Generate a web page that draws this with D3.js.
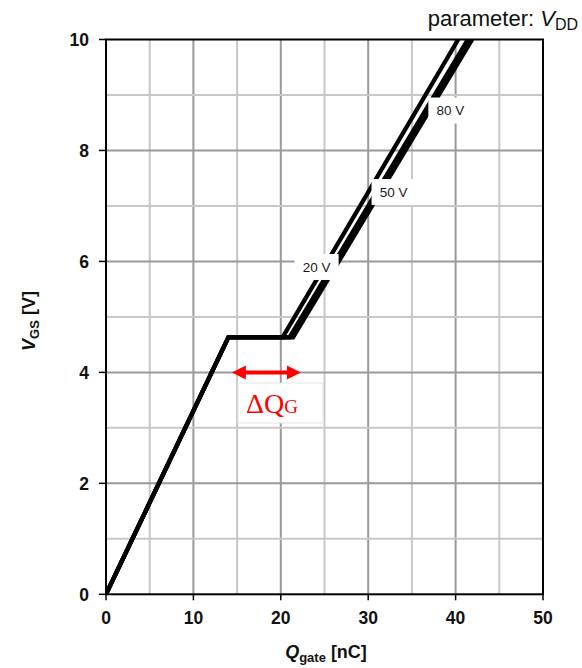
<!DOCTYPE html>
<html>
<head>
<meta charset="utf-8">
<script src="https://cdn.jsdelivr.net/npm/d3@7"></script>
<style>
  body { margin: 0; background: #fff; }
  text { font-family: "Liberation Sans", Arial, sans-serif; }
</style>
</head>
<body>
<svg width="582" height="668"></svg>
<script>
// gate charge curves, V_GS vs Q_gate for three V_DD values
const seriesNames = ["20 V", "50 V", "80 V"];
const vgsPoints = [0, 4.63, 4.63, 10];
const qgate20V = [0, 14.0, 20.2, 40.3];
const qgate50V = [0, 14.0, 21.0, 41.4];
const qgate80V = [0, 14.0, 21.4, 41.9];
const xTicks = [0, 10, 20, 30, 40, 50];
const yTicks = [0, 2, 4, 6, 8, 10];
// where the series labels sit (Q, V)
const labelQ = [24.1, 32.9, 39.4];
const labelV = [5.9, 7.25, 8.72];

const svg = d3.select("svg");
const pL = 106, pR = 543, pT = 39.5, pB = 594.3;

const x = d3.scaleLinear().domain([0, 50]).range([pL, pR]);
const y = d3.scaleLinear().domain([0, 10]).range([pB, pT]);

// grid
const g = svg.append("g");
g.selectAll(".vg").data(d3.range(5, 50, 5)).enter().append("line")
  .attr("x1", d => x(d)).attr("x2", d => x(d))
  .attr("y1", pT).attr("y2", pB)
  .attr("stroke", d => d % 10 === 0 ? "#9a9a9a" : "#c8c8c8")
  .attr("stroke-width", 2);
g.selectAll(".hg").data(d3.range(1, 10)).enter().append("line")
  .attr("y1", d => y(d)).attr("y2", d => y(d))
  .attr("x1", pL).attr("x2", pR)
  .attr("stroke", d => d % 2 === 0 ? "#9a9a9a" : "#c8c8c8")
  .attr("stroke-width", 2);

// curves
svg.append("clipPath").attr("id", "plot")
  .append("rect").attr("x", pL).attr("y", pT)
  .attr("width", pR - pL).attr("height", pB - pT);

const curves = [qgate20V, qgate50V, qgate80V].map(q => q.map((d, i) => [d, vgsPoints[i]]));
const line = d3.line().x(d => x(d[0])).y(d => y(d[1]));

svg.append("g").attr("clip-path", "url(#plot)")
  .selectAll("path").data(curves).enter().append("path")
  .attr("d", line)
  .attr("fill", "none")
  .attr("stroke", "#000")
  .attr("stroke-width", 4.3)
  .attr("stroke-linejoin", "miter");

// series labels on white boxes
const lab = svg.append("g").selectAll("g").data(seriesNames).enter().append("g")
  .attr("transform", (d, i) => `translate(${x(labelQ[i])},${y(labelV[i])})`);
lab.append("rect")
  .attr("x", -22).attr("y", -13).attr("width", 44).attr("height", 26)
  .attr("fill", "#fff");
lab.append("text")
  .attr("text-anchor", "middle").attr("dy", "0.36em")
  .attr("font-size", 13.5).attr("fill", "#1a1a1a")
  .text(d => d);

// delta Q_G annotation
svg.append("rect")
  .attr("x", 238).attr("y", 383).attr("width", 85).attr("height", 40)
  .attr("fill", "#fff").attr("stroke", "#e4e4e4").attr("stroke-width", 1);
const ay = y(4.0), ax1 = x(14.4), ax2 = x(22.3);
svg.append("line")
  .attr("x1", ax1 + 8).attr("x2", ax2 - 8).attr("y1", ay).attr("y2", ay)
  .attr("stroke", "#ff0000").attr("stroke-width", 4);
svg.append("path")
  .attr("d", `M${ax1},${ay}L${ax1 + 14},${ay - 7}L${ax1 + 14},${ay + 7}Z M${ax2},${ay}L${ax2 - 14},${ay - 7}L${ax2 - 14},${ay + 7}Z`)
  .attr("fill", "#ff0000");
const dq = svg.append("text")
  .attr("x", 246).attr("y", 413)
  .attr("fill", "#ff0000")
  .style("font-family", "'Liberation Serif', 'Times New Roman', serif")
  .attr("font-size", 28);
dq.append("tspan").text("ΔQ");
dq.append("tspan").attr("font-size", 19).text("G");

// frame and ticks
svg.append("rect")
  .attr("x", pL).attr("y", pT)
  .attr("width", pR - pL).attr("height", pB - pT)
  .attr("fill", "none").attr("stroke", "#000").attr("stroke-width", 2);

svg.append("g").selectAll("line").data(yTicks).enter().append("line")
  .attr("x1", pL - 7).attr("x2", pL).attr("y1", d => y(d)).attr("y2", d => y(d))
  .attr("stroke", "#000").attr("stroke-width", 1.5);
svg.append("g").selectAll("line").data(xTicks).enter().append("line")
  .attr("y1", pB).attr("y2", pB + 6).attr("x1", d => x(d)).attr("x2", d => x(d))
  .attr("stroke", "#000").attr("stroke-width", 1.5);

svg.append("g").selectAll("text").data(yTicks).enter().append("text")
  .attr("x", 89).attr("y", d => y(d)).attr("dy", "0.36em")
  .attr("text-anchor", "end").attr("font-size", 17.5).attr("font-weight", "bold")
  .attr("fill", "#111")
  .text(d => d);
svg.append("g").selectAll("text").data(xTicks).enter().append("text")
  .attr("x", d => x(d)).attr("y", 624)
  .attr("text-anchor", "middle").attr("font-size", 17.5).attr("font-weight", "bold")
  .attr("fill", "#111")
  .text(d => d);

// axis titles
const xt = svg.append("text")
  .attr("x", 326).attr("y", 658).attr("text-anchor", "middle")
  .attr("font-size", 18).attr("font-weight", "bold").attr("fill", "#111");
xt.append("tspan").attr("font-style", "italic").text("Q");
xt.append("tspan").attr("font-size", 13).attr("dy", 4).text("gate");
xt.append("tspan").attr("dy", -4).text(" [nC]");

const yt = svg.append("text")
  .attr("transform", "translate(35,321) rotate(-90)").attr("text-anchor", "middle")
  .attr("font-size", 18).attr("font-weight", "bold").attr("fill", "#111");
yt.append("tspan").attr("font-style", "italic").text("V");
yt.append("tspan").attr("font-size", 13).attr("dy", 4).text("GS");
yt.append("tspan").attr("dy", -4).text(" [V]");

const pt = svg.append("text")
  .attr("x", 578).attr("y", 26).attr("text-anchor", "end")
  .attr("font-size", 22).attr("fill", "#111");
pt.append("tspan").text("parameter: ");
pt.append("tspan").attr("font-style", "italic").text("V");
pt.append("tspan").attr("font-size", 16).attr("dy", 4).text("DD");
</script>
</body>
</html>
